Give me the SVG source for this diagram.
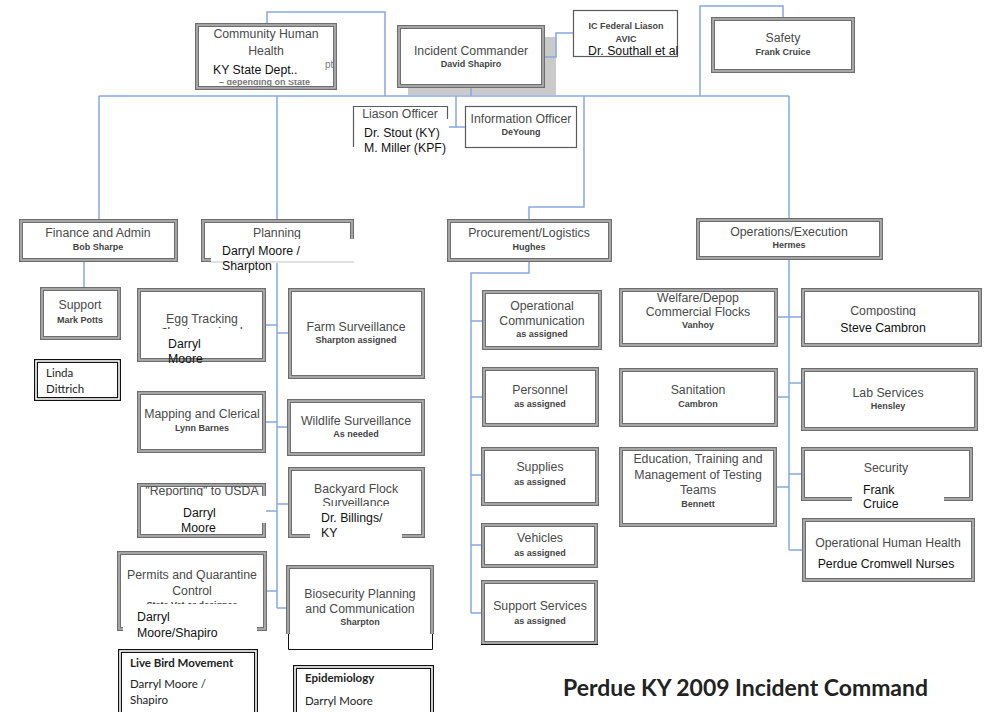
<svg xmlns="http://www.w3.org/2000/svg" width="989" height="712" viewBox="0 0 989 712">
<style>
.bx{fill:#fff;stroke:#6e6e6e;stroke-width:4}
.bxi{fill:none;stroke:#bcbcbc;stroke-width:1.4}
.sb{fill:#fff;stroke:#5a5a5a;stroke-width:1.2}
.kb{fill:#fff;stroke:#111;stroke-width:4}
.kbi{fill:none;stroke:#fff;stroke-width:1.6}
.ov{fill:#fff}
.t{font-family:"Liberation Sans",Arial,sans-serif;font-size:12.3px;fill:#4a4a4a;text-anchor:middle}
.s{font-family:"Liberation Sans",Arial,sans-serif;font-size:9px;font-weight:bold;fill:#444;text-anchor:middle}
.g{font-family:"Liberation Sans",Arial,sans-serif;font-size:9px;font-weight:bold;fill:#777}
.k{font-family:"Liberation Sans",Arial,sans-serif;font-size:12.3px;fill:#111}
.c{font-family:Lato,"Open Sans",sans-serif;font-size:11.5px;fill:#222}
.cb{font-family:Lato,"Open Sans",sans-serif;font-size:11.5px;font-weight:bold;fill:#222}
.ln{fill:none;stroke:#86a8df;stroke-width:1.5}
</style>
<rect width="989" height="712" fill="#fff"/>

<g id="community-human-health">
<rect class="bx" x="197" y="25" width="138" height="63"/><rect class="bxi" x="197" y="25" width="138" height="63"/>
<text class="t" x="266" y="38">Community Human</text>
<text class="t" x="266" y="55">Health</text>
<text class="g" x="325" y="68" style="font-weight:normal;font-size:10px">pt</text>
<text class="g" x="219" y="85">– depending on State</text>
<rect class="ov" x="205" y="59" width="118" height="21"/>
<text class="k" x="213" y="74">KY State Dept..</text>
</g>

<g id="incident-commander">
<rect x="408" y="37" width="148" height="58" fill="#cacaca"/>
<rect class="bx" x="399" y="27" width="144" height="59"/><rect class="bxi" x="399" y="27" width="144" height="59"/>
<text class="t" x="471" y="55">Incident Commander</text>
<text class="s" x="471" y="67">David Shapiro</text>
</g>

<g id="ic-federal-liason">
<rect class="sb" x="573.5" y="10.5" width="104" height="46"/>
<text class="s" x="626" y="29">IC Federal Liason</text>
<text class="s" x="626" y="42">AVIC</text>
<text class="k" x="588" y="55">Dr. Southall et al</text>
</g>

<g id="safety">
<rect class="bx" x="713" y="19" width="140" height="52"/><rect class="bxi" x="713" y="19" width="140" height="52"/>
<text class="t" x="783" y="42">Safety</text>
<text class="s" x="783" y="55">Frank Cruice</text>
</g>

<g id="liason-officer">
<path d="M353.5,147 V106.5 H447.5 V119" fill="none" stroke="#5a5a5a" stroke-width="1.2"/>
<text class="t" x="400" y="118">Liason Officer</text>
<text class="k" x="364" y="137">Dr. Stout (KY)</text>
<text class="k" x="364" y="152">M. Miller (KPF)</text>
</g>

<g id="information-officer">
<rect class="sb" x="465.5" y="106.5" width="111" height="41"/>
<text class="t" x="521" y="123">Information Officer</text>
<text class="s" x="521" y="135">DeYoung</text>
</g>

<g id="finance-admin">
<rect class="bx" x="21" y="221" width="155" height="39"/><rect class="bxi" x="21" y="221" width="155" height="39"/>
<text class="t" x="98" y="237">Finance and Admin</text>
<text class="s" x="98" y="250">Bob Sharpe</text>
</g>

<g id="planning">
<rect class="bx" x="203" y="221" width="149" height="39"/><rect class="bxi" x="203" y="221" width="149" height="39"/>
<text class="t" x="277" y="237">Planning</text>
<rect class="ov" x="211" y="239" width="147" height="24"/>
<line x1="211" y1="262" x2="354" y2="262" stroke="#c4c4c4" stroke-width="1"/>
<text class="k" x="222" y="255">Darryl Moore /</text>
<text class="k" x="222" y="270">Sharpton</text>
</g>

<g id="support">
<rect class="bx" x="42" y="289" width="77" height="49"/><rect class="bxi" x="42" y="289" width="77" height="49"/>
<text class="t" x="80" y="309">Support</text>
<text class="s" x="80" y="323">Mark Potts</text>
</g>

<g id="linda-dittrich">
<rect class="kb" x="36" y="361" width="83" height="38"/><rect class="kbi" x="36" y="361" width="83" height="38"/>
<text class="c" x="46" y="377">Linda</text>
<text class="c" x="46" y="393">Dittrich</text>
</g>

<g id="egg-tracking">
<rect class="bx" x="139" y="290" width="125" height="70"/><rect class="bxi" x="139" y="290" width="125" height="70"/>
<text class="t" x="202" y="323">Egg Tracking</text>
<text class="s" x="202" y="334">Sharpton assigned</text>
<rect class="ov" x="141" y="329" width="121" height="29"/>
<text class="k" x="168" y="348">Darryl</text>
<text class="k" x="168" y="363">Moore</text>
</g>

<g id="farm-surveillance">
<rect class="bx" x="290" y="290" width="133" height="87"/><rect class="bxi" x="290" y="290" width="133" height="87"/>
<text class="t" x="356" y="331">Farm Surveillance</text>
<text class="s" x="356" y="343">Sharpton assigned</text>
</g>

<g id="mapping-clerical">
<rect class="bx" x="139" y="393" width="125" height="58"/><rect class="bxi" x="139" y="393" width="125" height="58"/>
<text class="t" x="202" y="418">Mapping and Clerical</text>
<text class="s" x="202" y="431">Lynn Barnes</text>
</g>

<g id="wildlife-surveillance">
<rect class="bx" x="289" y="401" width="134" height="53"/><rect class="bxi" x="289" y="401" width="134" height="53"/>
<text class="t" x="356" y="425">Wildlife Surveillance</text>
<text class="s" x="356" y="437">As needed</text>
</g>

<g id="reporting-usda">
<rect class="bx" x="139" y="485" width="125" height="51"/><rect class="bxi" x="139" y="485" width="125" height="51"/>
<text class="t" x="202" y="495">"Reporting" to USDA</text>
<rect class="ov" x="143" y="496" width="126" height="27"/>
<text class="k" x="183" y="517">Darryl</text>
<text class="k" x="181" y="532">Moore</text>
</g>

<g id="backyard-flock">
<rect class="bx" x="290" y="469" width="133" height="67"/><rect class="bxi" x="290" y="469" width="133" height="67"/>
<text class="t" x="356" y="493">Backyard Flock</text>
<text class="t" x="356" y="507">Surveillance</text>
<rect class="ov" x="310" y="506" width="92" height="35"/>
<text class="k" x="321" y="522">Dr. Billings/</text>
<text class="k" x="321" y="537">KY</text>
</g>

<g id="permits-quarantine">
<rect class="bx" x="119" y="553" width="146" height="76"/><rect class="bxi" x="119" y="553" width="146" height="76"/>
<text class="t" x="192" y="579">Permits and Quarantine</text>
<text class="t" x="192" y="595">Control</text>
<text class="s" x="192" y="608">State Vet or designee</text>
<rect class="ov" x="123" y="604" width="134" height="38"/>
<text class="k" x="137" y="621">Darryl</text>
<text class="k" x="137" y="637">Moore/Shapiro</text>
</g>

<g id="biosecurity">
<rect class="bx" x="288" y="567" width="144" height="81"/><rect class="bxi" x="288" y="567" width="144" height="81"/>
<rect class="ov" x="285" y="634" width="151" height="18"/>
<path d="M288.5,634 V649.5 H432.5 V634" fill="none" stroke="#111" stroke-width="1"/>
<text class="t" x="360" y="598">Biosecurity Planning</text>
<text class="t" x="360" y="613">and Communication</text>
<text class="s" x="360" y="625">Sharpton</text>
</g>

<g id="live-bird-movement">
<rect class="kb" x="120" y="651" width="136" height="75"/><rect class="kbi" x="120" y="651" width="136" height="75"/>
<text class="cb" x="130" y="667">Live Bird Movement</text>
<text class="c" x="130" y="688">Darryl Moore /</text>
<text class="c" x="130" y="704">Shapiro</text>
</g>

<g id="epidemiology">
<rect class="kb" x="295" y="667" width="137" height="60"/><rect class="kbi" x="295" y="667" width="137" height="60"/>
<text class="cb" x="305" y="682">Epidemiology</text>
<text class="c" x="305" y="705">Darryl Moore</text>
</g>

<g id="procurement-logistics">
<rect class="bx" x="449" y="221" width="161" height="39"/><rect class="bxi" x="449" y="221" width="161" height="39"/>
<text class="t" x="529" y="237">Procurement/Logistics</text>
<text class="s" x="529" y="250">Hughes</text>
</g>

<g id="operational-communication">
<rect class="bx" x="484" y="292" width="116" height="56"/><rect class="bxi" x="484" y="292" width="116" height="56"/>
<text class="t" x="542" y="310">Operational</text>
<text class="t" x="542" y="325">Communication</text>
<text class="s" x="542" y="337">as assigned</text>
</g>

<g id="personnel">
<rect class="bx" x="484" y="369" width="113" height="56"/><rect class="bxi" x="484" y="369" width="113" height="56"/>
<text class="t" x="540" y="394">Personnel</text>
<text class="s" x="540" y="407">as assigned</text>
</g>

<g id="supplies">
<rect class="bx" x="483" y="449" width="114" height="55"/><rect class="bxi" x="483" y="449" width="114" height="55"/>
<text class="t" x="540" y="471">Supplies</text>
<text class="s" x="540" y="485">as assigned</text>
</g>

<g id="vehicles">
<rect class="bx" x="483" y="525" width="113" height="41"/><rect class="bxi" x="483" y="525" width="113" height="41"/>
<text class="t" x="540" y="542">Vehicles</text>
<text class="s" x="540" y="556">as assigned</text>
</g>

<g id="support-services">
<rect class="bx" x="483" y="582" width="113" height="61"/><rect class="bxi" x="483" y="582" width="113" height="61"/>
<line x1="481" y1="644.5" x2="598" y2="644.5" stroke="#111" stroke-width="1"/>
<text class="t" x="540" y="610">Support Services</text>
<text class="s" x="540" y="624">as assigned</text>
</g>

<g id="operations-execution">
<rect class="bx" x="698" y="220" width="183" height="38"/><rect class="bxi" x="698" y="220" width="183" height="38"/>
<text class="t" x="789" y="236">Operations/Execution</text>
<text class="s" x="789" y="248">Hermes</text>
</g>

<g id="welfare-depop">
<rect class="bx" x="621" y="290" width="155" height="55"/><rect class="bxi" x="621" y="290" width="155" height="55"/>
<text class="t" x="698" y="302">Welfare/Depop</text>
<text class="t" x="698" y="316">Commercial Flocks</text>
<text class="s" x="698" y="328">Vanhoy</text>
</g>

<g id="composting">
<rect class="bx" x="803" y="290" width="177" height="55"/><rect class="bxi" x="803" y="290" width="177" height="55"/>
<text class="t" x="883" y="315">Composting</text>
<rect class="ov" x="830" y="316" width="105" height="21"/>
<text class="k" x="883" y="332" style="text-anchor:middle">Steve Cambron</text>
</g>

<g id="sanitation">
<rect class="bx" x="621" y="370" width="155" height="55"/><rect class="bxi" x="621" y="370" width="155" height="55"/>
<text class="t" x="698" y="394">Sanitation</text>
<text class="s" x="698" y="407">Cambron</text>
</g>

<g id="lab-services">
<rect class="bx" x="803" y="370" width="173" height="59"/><rect class="bxi" x="803" y="370" width="173" height="59"/>
<text class="t" x="888" y="397">Lab Services</text>
<text class="s" x="888" y="409">Hensley</text>
</g>

<g id="education-training">
<rect class="bx" x="621" y="449" width="154" height="76"/><rect class="bxi" x="621" y="449" width="154" height="76"/>
<text class="t" x="698" y="463">Education, Training and</text>
<text class="t" x="698" y="479">Management of Testing</text>
<text class="t" x="698" y="494">Teams</text>
<text class="s" x="698" y="507">Bennett</text>
</g>

<g id="security">
<rect class="bx" x="803" y="449" width="168" height="50"/><rect class="bxi" x="803" y="449" width="168" height="50"/>
<text class="t" x="886" y="472">Security</text>
<rect class="ov" x="852" y="497" width="92" height="8"/>
<text class="k" x="863" y="494">Frank</text>
<text class="k" x="863" y="508">Cruice</text>
</g>

<g id="operational-human-health">
<rect class="bx" x="804" y="520" width="169" height="60"/><rect class="bxi" x="804" y="520" width="169" height="60"/>
<text class="t" x="888" y="547">Operational Human Health</text>
<text class="k" x="886" y="568" style="text-anchor:middle">Perdue Cromwell Nurses</text>
</g>

<g id="connectors">
<path class="ln" d="M267,23 V12 H385 V96"/>
<path class="ln" d="M99,96 H789"/>
<path class="ln" d="M99,96 V219"/>
<path class="ln" d="M277,96 V219"/>
<path class="ln" d="M471,88 V96"/>
<path class="ln" d="M456,96 V127 M449,127 H465"/>
<path class="ln" d="M584,96 V207 H529 V219"/>
<path class="ln" d="M789,96 V218"/>
<path class="ln" d="M700,96 V6 H783 V17"/>
<path class="ln" d="M545,57 H556 V33 H573"/>
<path class="ln" d="M84,262 V287"/>
<path class="ln" d="M277,263 V608"/>
<path class="ln" d="M266,325 H277 M277,333 H288 M266,422 H277 M277,427 H287 M266,511 H277 M277,504 H288 M267,591 H277 M277,608 H286"/>
<path class="ln" d="M529,262 V273 H471 V613"/>
<path class="ln" d="M471,321 H482 M471,397 H482 M471,475 H481 M471,545 H481 M471,613 H481"/>
<path class="ln" d="M789,260 V550"/>
<path class="ln" d="M778,317 H801 M778,397 H789 M789,383 H801 M777,487 H789 M789,474 H801 M789,550 H802"/>
</g>

<g id="title">
<text x="563" y="696" style="font-family:Lato,'Open Sans',sans-serif;font-size:22px;font-weight:bold;fill:#222" textLength="365" lengthAdjust="spacingAndGlyphs">Perdue KY 2009 Incident Command</text>
</g>
</svg>
